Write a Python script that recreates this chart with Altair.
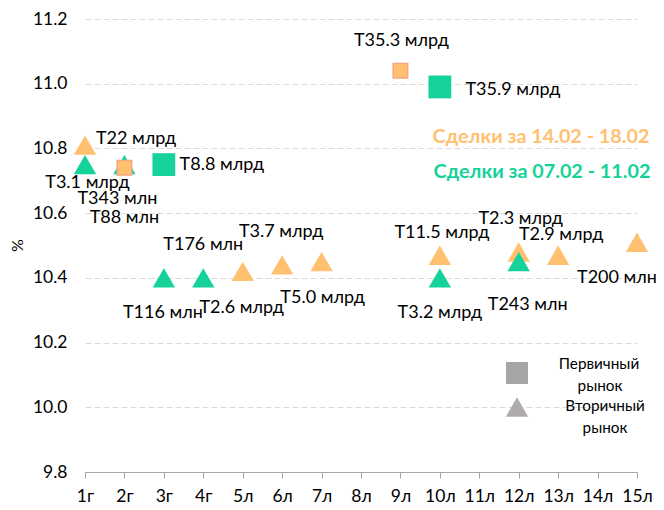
import altair as alt
import pandas as pd

# ---- data ----
categories = ["1г", "2г", "3г", "4г", "5л", "6л", "7л", "8л", "9л", "10л",
              "11л", "12л", "13л", "14л", "15л"]

# Сделки за 14.02 - 18.02
new_cat = ["1г", "2г", "5л", "6л", "7л", "9л", "10л", "12л", "13л", "15л"]
new_yield = [10.81, 10.74, 10.42, 10.44, 10.45, 11.04, 10.47, 10.48, 10.47, 10.51]
new_market = ["Вторичный", "Первичный", "Вторичный", "Вторичный", "Вторичный",
              "Первичный", "Вторичный", "Вторичный", "Вторичный", "Вторичный"]
new_label = ["T22 млрд", "T88 млн", "T2.6 млрд", "T3.7 млрд", "T5.0 млрд",
             "T35.3 млрд", "T11.5 млрд", "T2.3 млрд", "T2.9 млрд", "T200 млн"]

# Сделки за 07.02 - 11.02
old_cat = ["1г", "2г", "3г", "3г", "4г", "10л", "10л", "12л"]
old_yield = [10.75, 10.75, 10.75, 10.40, 10.40, 10.99, 10.40, 10.45]
old_market = ["Вторичный", "Вторичный", "Первичный", "Вторичный", "Вторичный",
              "Первичный", "Вторичный", "Вторичный"]
old_label = ["T3.1 млрд", "T343 млн", "T8.8 млрд", "T116 млн", "T176 млн",
             "T35.9 млрд", "T3.2 млрд", "T243 млн"]

# ---- layout (label offsets in pixels, relative to each point) ----
W, H = 552, 453
Y_MIN, Y_MAX = 9.8, 11.2
new_offsets = [(51, -6), (0, 50), (-1, 37), (-1, -33), (1, 36), (1, -30),
               (2, -22), (2, -33), (3, -20), (-20, 36)]
old_offsets = [(2.5, 18), (-7, 34), (58, 0), (-1, 35), (0, -33), (73, 3),
               (0, 35), (9, 43)]

ORANGE = "#FFC170"
GREEN = "#14D29A"
FONT = "Lato"

px_x = W / (len(categories) - 1)
px_y = H / (Y_MAX - Y_MIN)

rows = []
for series, cats, ys, mk, lb, offs in [
    ("new", new_cat, new_yield, new_market, new_label, new_offsets),
    ("old", old_cat, old_yield, old_market, old_label, old_offsets),
]:
    for c, y, m, l, (dx, dy) in zip(cats, ys, mk, lb, offs):
        idx = categories.index(c) + 1
        rows.append(dict(series=series, cat=c, idx=idx, y=y, market=m, label=l,
                         lx=idx + dx / px_x, ly=y - dy / px_y))
df = pd.DataFrame(rows)

label_expr = "[" + ",".join("'%s'" % c for c in categories) + "][datum.value - 1]"

x_scale = alt.Scale(domain=[1, len(categories)], nice=False, zero=False)
y_scale = alt.Scale(domain=[Y_MIN, Y_MAX], nice=False, zero=False)

x_axis = alt.Axis(title=None, values=list(range(1, len(categories) + 1)),
                  labelExpr=label_expr, grid=False, domainColor="#A6A6A6",
                  tickColor="#A6A6A6", tickSize=6, labelPadding=9,
                  labelOverlap=False, labelFlush=False, labelBound=False,
                  labelFont=FONT, labelFontSize=17.5, labelColor="#000000")
y_axis = alt.Axis(title="%", values=[9.8, 10.0, 10.2, 10.4, 10.6, 10.8, 11.0, 11.2],
                  format=".1f", grid=True, gridDash=[6, 3], gridColor="#D9D9D9",
                  gridWidth=1.2, domain=False, ticks=False, tickSize=0,
                  labelPadding=18, labelFont=FONT, labelFontSize=17.5,
                  labelOverlap=False, labelFlush=False,
                  labelColor="#000000", titleFont=FONT, titleFontSize=16,
                  titleFontWeight="normal", titleColor="#000000",
                  titleX=-68, titleY=226, titleAngle=270,
                  titleAlign="center", titleBaseline="middle")

xs = alt.X("idx:Q", scale=x_scale, axis=x_axis)
ys = alt.Y("y:Q", scale=y_scale, axis=y_axis)

base = alt.Chart(df)

tri_new = base.transform_filter("datum.series == 'new' && datum.market == 'Вторичный'").mark_point(
    shape="triangle-up", filled=True, size=500, color=ORANGE, opacity=1).encode(x=xs, y=ys)
tri_old = base.transform_filter("datum.series == 'old' && datum.market == 'Вторичный'").mark_point(
    shape="triangle-up", filled=True, size=500, color=GREEN, opacity=1).encode(x=xs, y=ys)
sq_new = base.transform_filter("datum.series == 'new' && datum.market == 'Первичный'").mark_point(
    shape="square", filled=True, size=210, fill=ORANGE, stroke="#F4A582", strokeWidth=1.5,
    opacity=1).encode(x=xs, y=ys)
sq_old = base.transform_filter("datum.series == 'old' && datum.market == 'Первичный'").mark_point(
    shape="square", filled=True, size=520, color=GREEN, opacity=1).encode(x=xs, y=ys)

labels = base.mark_text(font=FONT, fontSize=18, color="#000000", baseline="middle",
                        align="center").encode(
    x=alt.X("lx:Q", scale=x_scale, axis=x_axis), y=alt.Y("ly:Q", scale=y_scale, axis=y_axis),
    text="label:N")

one = alt.Data(values=[{}])
leg_new = alt.Chart(one).mark_text(font=FONT, fontSize=19.8, fontWeight="bold", color=ORANGE,
                                   align="center", baseline="middle").encode(
    x=alt.value(456), y=alt.value(118), text=alt.value("Сделки за 14.02 - 18.02"))
leg_old = alt.Chart(one).mark_text(font=FONT, fontSize=19.8, fontWeight="bold", color=GREEN,
                                   align="center", baseline="middle").encode(
    x=alt.value(457), y=alt.value(153), text=alt.value("Сделки за 07.02 - 11.02"))
leg_sq = alt.Chart(one).mark_point(shape="square", filled=True, size=484, color="#A6A6A6",
                                   opacity=1).encode(x=alt.value(432), y=alt.value(354))
leg_tri = alt.Chart(one).mark_point(shape="triangle-up", filled=True, size=500, color="#AFABAB",
                                    opacity=1).encode(x=alt.value(432), y=alt.value(388))
leg_texts = []
for t, x, y in [("Первичный", 514, 345), ("рынок", 515, 367),
                ("Вторичный", 520, 387), ("рынок", 520, 409)]:
    leg_texts.append(alt.Chart(one).mark_text(font=FONT, fontSize=15.3, color="#000000",
                                              align="center", baseline="middle").encode(
        x=alt.value(x), y=alt.value(y), text=alt.value(t)))

chart = alt.layer(tri_new, tri_old, sq_new, sq_old, labels, leg_new, leg_old,
                  leg_sq, leg_tri, *leg_texts).properties(
    width=W, height=H,
    autosize=alt.AutoSizeParams(type="none"),
    padding={"left": 77, "top": 11, "right": 19, "bottom": 36},
    background="#FFFFFF",
).configure_view(stroke=None).configure_axis(labelOverlap=False)

chart.save("out.html", embed_options={"renderer": "svg", "actions": False})
